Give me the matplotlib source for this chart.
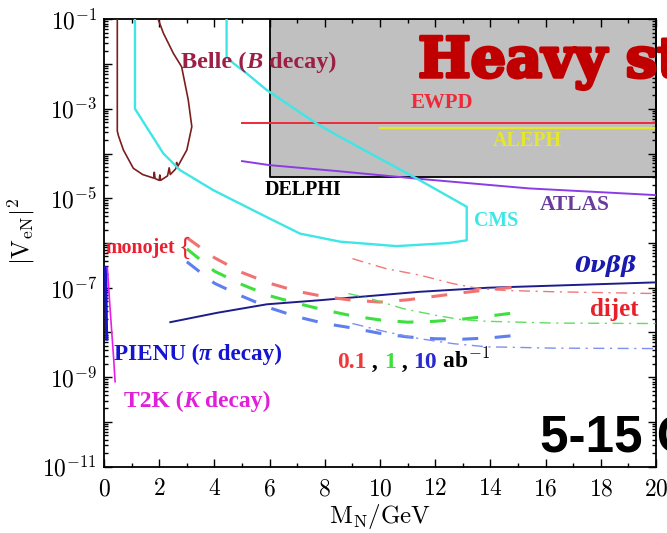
import numpy as np
import matplotlib
matplotlib.use('Agg')
import matplotlib.pyplot as plt
import matplotlib.patheffects as pe
from matplotlib.ticker import LogLocator, MultipleLocator, NullFormatter

plt.rcParams['mathtext.fontset'] = 'cm'
plt.rcParams['font.family'] = 'serif'
plt.rcParams['font.serif'] = ['Liberation Serif', 'DejaVu Serif']

# --- limits, all |V_eN|^2 values given as log10 ---
# Belle (B decay) contour
belle_m = [0.48, 0.48, 0.52, 0.7, 1.06, 1.4, 1.8, 1.82, 1.85, 2.0, 2.02, 2.05, 2.3, 2.36, 2.4, 2.6, 2.63, 2.66,
           3.0, 3.18, 3.05, 2.81, 2.51, 2.15, 1.96]
belle_v = [-1.0, -3.5, -3.6, -3.92, -4.33, -4.47, -4.55, -4.42, -4.56, -4.6, -4.48, -4.6, -4.5, -4.32, -4.47,
           -4.34, -4.2, -4.3, -3.92, -3.4, -2.8, -2.06, -1.76, -1.31, -1.0]

# CMS contour
cms_m = [1.12, 1.12, 1.5, 2.15, 2.75, 3.96, 5.89, 7.1, 8.55, 10.6, 12.5, 13.14, 13.14, 11.33, 8.55, 7.7,
         5.89, 5.17, 4.68, 4.44, 4.44]
cms_v = [-1.0, -3.0, -3.37, -4.0, -4.37, -4.82, -5.42, -5.79, -5.97, -6.07, -6.0, -5.94, -5.19, -4.56, -3.63,
         -3.33, -2.58, -2.21, -1.98, -1.84, -1.0]

# DELPHI excluded box
delphi_m = [6, 20]
delphi_lo = [-4.52, -4.52]
delphi_hi = [-1.0, -1.0]

# EWPD and ALEPH
ewpd_m = [5, 20]
ewpd_v = [-3.31, -3.31]
aleph_m = [10, 20]
aleph_v = [-3.44, -3.44]

# ATLAS
atlas_m = [5, 6, 8.4, 11.3, 15.4, 20]
atlas_v = [-4.17, -4.26, -4.39, -4.56, -4.78, -4.93]

# neutrinoless double beta decay
onubb_m = [2.4, 4.1, 5.9, 7.8, 11.45, 13.9, 20]
onubb_v = [-7.77, -7.56, -7.37, -7.28, -7.09, -7.0, -6.88]

# PIENU and T2K
pienu_m = [0.06, 0.07, 0.09, 0.1]
pienu_v = [-6.55, -7.2, -7.95, -8.15]
t2k_m = [0.12, 0.2, 0.28, 0.35, 0.4]
t2k_v = [-6.55, -7.3, -8.0, -8.6, -9.1]

# monojet reach for 0.1, 1, 10 ab^-1
mono_m = [3, 4, 5, 6, 7, 8, 9, 10, 11, 12, 13, 14, 15]
mono_01 = [-5.88, -6.33, -6.66, -6.9, -7.08, -7.2, -7.28, -7.32, -7.27, -7.19, -7.11, -7.04, -6.98]
mono_1 = [-6.13, -6.63, -6.93, -7.18, -7.35, -7.5, -7.63, -7.72, -7.77, -7.75, -7.7, -7.63, -7.55]
mono_10 = [-6.42, -6.9, -7.19, -7.45, -7.65, -7.8, -7.9, -8.02, -8.1, -8.14, -8.15, -8.12, -8.06]

# dijet reach for 0.1, 1, 10 ab^-1
dijet01_m = [9.0, 10.2, 11.45, 12.65, 13.6, 14.5, 16.3, 20]
dijet01_v = [-6.35, -6.57, -6.72, -6.91, -7.02, -7.06, -7.09, -7.13]
dijet1_m = [8.85, 9.64, 10.85, 12.05, 12.9, 13.86, 16.3, 20]
dijet1_v = [-7.13, -7.24, -7.47, -7.62, -7.71, -7.75, -7.79, -7.8]
dijet10_m = [9.0, 10.24, 11.45, 12.65, 13.86, 16.3, 20]
dijet10_v = [-7.8, -7.99, -8.14, -8.25, -8.32, -8.35, -8.36]

xticks = [0, 2, 4, 6, 8, 10, 12, 14, 16, 18, 20]
ydecades = [-11, -10, -9, -8, -7, -6, -5, -4, -3, -2, -1]


def p(vals):
    return 10.0 ** np.asarray(vals)


fig = plt.figure(figsize=(6.67, 5.33), dpi=100)
ax = fig.add_axes([0.156, 0.1244, 0.8276, 0.8394])

ax.fill_between(delphi_m, p(delphi_lo), p(delphi_hi), facecolor='#c0c0c0', edgecolor='black', lw=1.3, zorder=1)
ax.plot(ewpd_m, p(ewpd_v), color='#ee2a3a', lw=1.4, zorder=2)
ax.plot(aleph_m, p(aleph_v), color='#e6e62a', lw=1.6, zorder=2)
ax.plot(atlas_m, p(atlas_v), color='#8c3ce6', lw=1.4, zorder=3)
ax.plot(belle_m, p(belle_v), color='#7b1e1e', lw=1.2, zorder=3)
ax.plot(cms_m, p(cms_v), color='#3ee6e6', lw=1.7, zorder=3)
ax.plot(onubb_m, p(onubb_v), color='#1c1c8c', lw=1.4, zorder=3)
ax.plot(pienu_m, p(pienu_v), color='#1414d2', lw=2.2, zorder=3)
ax.plot(t2k_m, p(t2k_v), color='#e61ee6', lw=1.2, zorder=3)

dash = (0, (5.2, 5.4))
ax.plot(mono_m, p(mono_01), color='#f07272', lw=2.2, ls=dash, zorder=3)
ax.plot(mono_m, p(mono_1), color='#3ee03e', lw=2.2, ls=dash, zorder=3)
ax.plot(mono_m, p(mono_10), color='#5f7ff0', lw=2.2, ls=dash, zorder=3)

dashdot = (0, (8, 4, 1.5, 4))
ax.plot(dijet01_m, p(dijet01_v), color='#f07878', lw=1.0, ls=dashdot, zorder=3)
ax.plot(dijet1_m, p(dijet1_v), color='#5ee05e', lw=1.0, ls=dashdot, zorder=3)
ax.plot(dijet10_m, p(dijet10_v), color='#7f8ff0', lw=1.0, ls=dashdot, zorder=3)

ax.set_xlim(0, 20)
ax.set_yscale('log')
ax.set_ylim(1e-11, 1e-1)

ax.set_xticks(xticks)
ax.set_xticklabels([r'$%d$' % t for t in xticks])
ax.xaxis.set_minor_locator(MultipleLocator(1))
ax.set_yticks(p(ydecades))
ax.set_yticklabels([r'$10^{%d}$' % d if d % 2 else '' for d in ydecades])
ax.yaxis.set_minor_locator(LogLocator(base=10, subs=np.arange(2, 10), numticks=100))
ax.yaxis.set_minor_formatter(NullFormatter())
ax.tick_params(which='both', direction='in', top=True, right=True, width=1.0, labelsize=17)
ax.tick_params(which='major', length=6)
ax.tick_params(which='minor', length=3)
ax.tick_params(axis='x', pad=9)
ax.tick_params(axis='y', pad=5)
for s in ax.spines.values():
    s.set_linewidth(1.3)

ax.set_xlabel(r'$\mathrm{M_N/GeV}$', fontsize=18)
ax.set_ylabel(r'$|\mathrm{V_{eN}}|^2$', fontsize=18)
ax.xaxis.set_label_coords(0.5, -0.078)
ax.yaxis.set_label_coords(-0.122, 0.527)


def chain(x, y, parts, size=14, family=None):
    # consecutive text pieces with their own colour / style
    txt = None
    extra = {'family': family} if family else {}
    for s, color, style in parts:
        if txt is None:
            txt = ax.text(x, 10.0 ** y, s, color=color, style=style, fontsize=size, weight='bold',
                          ha='left', va='center', zorder=5, **extra)
        else:
            txt = ax.annotate(s, xy=(1, 0), xycoords=txt, color=color, style=style, fontsize=size,
                              weight='bold', ha='left', va='bottom', zorder=5, **extra)
    return txt


chain(2.79, -1.955, [('Belle (', '#9c1f45', 'normal'), ('B', '#9c1f45', 'italic'),
                     (' decay)', '#9c1f45', 'normal')], size=17.5)
chain(5.83, -4.82, [('DELPHI', 'black', 'normal')], size=14.4)
chain(11.1, -2.875, [('EWPD', '#ee2a3a', 'normal')], size=15)
chain(14.1, -3.72, [('ALEPH', '#e6e62a', 'normal')], size=14.5)
chain(15.8, -5.15, [('ATLAS', '#6a3c9c', 'normal')], size=15.5)
chain(13.4, -5.51, [('CMS', '#3ee6e6', 'normal')], size=14.3)
chain(0.07, -6.12, [('monojet', '#e82030', 'normal')], size=14.4)
ax.text(2.72, 10.0 ** -6.1, '{', color='#e82030', fontsize=19, ha='left', va='center', zorder=5)
chain(17.05, -6.52, [('0νββ', '#1a1ab0', 'italic')], size=16.5, family='DejaVu Serif')
chain(17.6, -7.48, [('dijet', '#e8202a', 'normal')], size=18)
chain(0.36, -8.49, [('PIENU (', '#1414d2', 'normal'), ('π', '#1414d2', 'italic'),
                    (' decay)', '#1414d2', 'normal')], size=16.7)
chain(8.44, -8.68, [('0.1', '#f03a3a', 'normal'), (' , ', 'black', 'normal'), ('1', '#3ee03e', 'normal'),
                    (' , ', 'black', 'normal'), ('10', '#2a2ad2', 'normal'),
                    (r' ab$^{\mathbf{-1}}$', 'black', 'normal')], size=17)
chain(0.72, -9.54, [('T2K (', '#e020d8', 'normal'), ('K', '#e020d8', 'italic'),
                    (' decay)', '#e020d8', 'normal')], size=17)

ax.text(11.38, 10.0 ** -2.29, 'Heavy sterile neutrinos', color='#c00000', fontsize=40,
        family='DejaVu Serif', weight='bold', ha='left', va='baseline', zorder=6,
        path_effects=[pe.withStroke(linewidth=2.5, foreground='#c00000')])
ax.text(15.8, 10.0 ** -10.68, '5-15 GeV', color='black', fontsize=37,
        family='Liberation Sans', weight='bold', ha='left', va='baseline', zorder=6)

fig.savefig('out.png', dpi=100)
